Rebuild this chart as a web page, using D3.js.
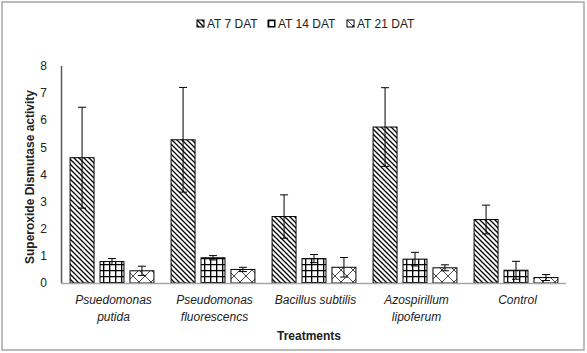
<!DOCTYPE html>
<html>
<head>
<meta charset="utf-8">
<script src="https://cdn.jsdelivr.net/npm/d3@7"></script>
<style>
  body { margin: 0; background: #fff; }
  svg { font-family: "Liberation Sans", Arial, sans-serif; }
</style>
</head>
<body>
<script>
const width = 587;
const height = 353;

// treatments (two-line labels)
const categories = [
  ['Psuedomonas', 'putida'],
  ['Pseudomonas', 'fluorescencs'],
  ['Bacillus subtilis'],
  ['Azospirillum', 'lipoferum'],
  ['Control']
];
const seriesNames = ['AT 7 DAT', 'AT 14 DAT', 'AT 21 DAT'];

// values
const at7 = [4.62, 5.28, 2.45, 5.75, 2.34];
const at14 = [0.79, 0.93, 0.90, 0.88, 0.47];
const at21 = [0.45, 0.50, 0.58, 0.56, 0.20];
// error bar half-lengths
const err7 = [1.86, 1.93, 0.80, 1.45, 0.53];
const err14 = [0.11, 0.08, 0.15, 0.25, 0.33];
const err21 = [0.17, 0.08, 0.36, 0.11, 0.11];

const yTicks = [0, 1, 2, 3, 4, 5, 6, 7, 8];

const values = [at7, at14, at21];
const errs = [err7, err14, err21];

const svg = d3.select('body').append('svg')
  .attr('width', width)
  .attr('height', height);

// patterns
const defs = svg.append('defs');
const p1 = defs.append('pattern').attr('id', 'pat0')
  .attr('patternUnits', 'userSpaceOnUse').attr('width', 5).attr('height', 5);
p1.append('rect').attr('width', 5).attr('height', 5).attr('fill', '#fff');
p1.append('path').attr('d', 'M-1,-1 L6,6 M-1,4 L1,6 M4,-1 L6,1')
  .attr('stroke', '#000').attr('stroke-width', 1.3);

const p2 = defs.append('pattern').attr('id', 'pat1')
  .attr('patternUnits', 'userSpaceOnUse').attr('width', 6).attr('height', 6);
p2.append('rect').attr('width', 6).attr('height', 6).attr('fill', '#fff');
p2.append('path').attr('d', 'M0,0.5 L6,0.5 M0.5,0 L0.5,6')
  .attr('stroke', '#000').attr('stroke-width', 1.7);

const p3 = defs.append('pattern').attr('id', 'pat2')
  .attr('patternUnits', 'userSpaceOnUse').attr('width', 12).attr('height', 12);
p3.append('rect').attr('width', 12).attr('height', 12).attr('fill', '#fff');
p3.append('path').attr('d', 'M0,0 L12,12 M12,0 L0,12')
  .attr('stroke', '#333').attr('stroke-width', 0.9);

// chart border
svg.append('rect')
  .attr('x', 2).attr('y', 2).attr('width', 582).attr('height', 348)
  .attr('fill', 'none').attr('stroke', '#a6a6a6').attr('stroke-width', 1.5);

const x0 = d3.scaleBand()
  .domain(d3.range(categories.length))
  .range([61, 566]);

const x1 = d3.scaleBand()
  .domain(d3.range(seriesNames.length))
  .range([x0.bandwidth() * 0.09, x0.bandwidth() * 0.92])
  .paddingInner(0.2);

const y = d3.scaleLinear().domain([0, 8]).range([283, 66]);

// y tick labels
svg.append('g').selectAll('text')
  .data(yTicks)
  .enter().append('text')
  .attr('x', 47)
  .attr('y', d => y(d))
  .attr('dy', '0.35em')
  .attr('text-anchor', 'end')
  .style('font-size', '12px')
  .attr('fill', '#222')
  .text(d => d);

// y axis line
svg.append('line')
  .attr('x1', 61.5).attr('x2', 61.5)
  .attr('y1', y(8)).attr('y2', y(0))
  .attr('stroke', '#595959').attr('stroke-width', 1.5);

// bars
const groups = svg.append('g').selectAll('g')
  .data(categories)
  .enter().append('g')
  .attr('transform', (d, i) => `translate(${x0(i)},0)`);

groups.selectAll('rect')
  .data((d, i) => seriesNames.map((s, j) => ({j, v: values[j][i], e: errs[j][i]})))
  .enter().append('rect')
  .attr('x', d => x1(d.j))
  .attr('y', d => y(d.v))
  .attr('width', x1.bandwidth())
  .attr('height', d => y(0) - y(d.v))
  .attr('fill', d => `url(#pat${d.j})`)
  .attr('stroke', '#000')
  .attr('stroke-width', 1);

// error bars
const eb = groups.selectAll('g.err')
  .data((d, i) => seriesNames.map((s, j) => ({j, v: values[j][i], e: errs[j][i]})))
  .enter().append('g').attr('class', 'err')
  .attr('stroke', '#000').attr('stroke-width', 1);

eb.append('line')
  .attr('x1', d => x1(d.j) + x1.bandwidth() / 2)
  .attr('x2', d => x1(d.j) + x1.bandwidth() / 2)
  .attr('y1', d => y(d.v + d.e))
  .attr('y2', d => y(d.v - d.e));
eb.append('line')
  .attr('x1', d => x1(d.j) + x1.bandwidth() / 2 - 4)
  .attr('x2', d => x1(d.j) + x1.bandwidth() / 2 + 4)
  .attr('y1', d => y(d.v + d.e))
  .attr('y2', d => y(d.v + d.e));
eb.append('line')
  .attr('x1', d => x1(d.j) + x1.bandwidth() / 2 - 4)
  .attr('x2', d => x1(d.j) + x1.bandwidth() / 2 + 4)
  .attr('y1', d => y(d.v - d.e))
  .attr('y2', d => y(d.v - d.e));

// baseline
svg.append('line')
  .attr('x1', 61).attr('x2', 566)
  .attr('y1', y(0) + 0.5).attr('y2', y(0) + 0.5)
  .attr('stroke', '#a6a6a6').attr('stroke-width', 1.5);

// category labels
const catText = svg.append('g').selectAll('text')
  .data(categories)
  .enter().append('text')
  .attr('text-anchor', 'middle')
  .style('font-size', '12px')
  .style('font-style', 'italic')
  .attr('fill', '#222');

catText.selectAll('tspan')
  .data((d, i) => d.map(t => ({t, i})))
  .enter().append('tspan')
  .attr('x', d => x0(d.i) + x0.bandwidth() / 2 + 2)
  .attr('y', (d, k) => 304 + k * 17)
  .text(d => d.t);

// axis titles
svg.append('text')
  .attr('x', 309).attr('y', 340)
  .attr('text-anchor', 'middle')
  .style('font-size', '12px')
  .style('font-weight', 'bold')
  .attr('fill', '#222')
  .text('Treatments');

svg.append('text')
  .attr('transform', 'translate(34,177) rotate(-90)')
  .attr('text-anchor', 'middle')
  .style('font-size', '12px')
  .style('font-weight', 'bold')
  .attr('fill', '#222')
  .text('Superoxide Dismutase activity');

// legend
const legendX = [197, 268, 347];
const legend = svg.append('g').selectAll('g')
  .data(seriesNames)
  .enter().append('g')
  .attr('transform', (d, i) => `translate(${legendX[i]},20)`);

legend.append('rect')
  .attr('width', 7).attr('height', 7)
  .attr('fill', (d, i) => `url(#pat${i})`)
  .attr('stroke', '#000').attr('stroke-width', 1);

legend.append('text')
  .attr('x', 10).attr('y', 4)
  .attr('dy', '0.35em')
  .style('font-size', '12px')
  .attr('fill', '#222')
  .text(d => d);
</script>
</body>
</html>
